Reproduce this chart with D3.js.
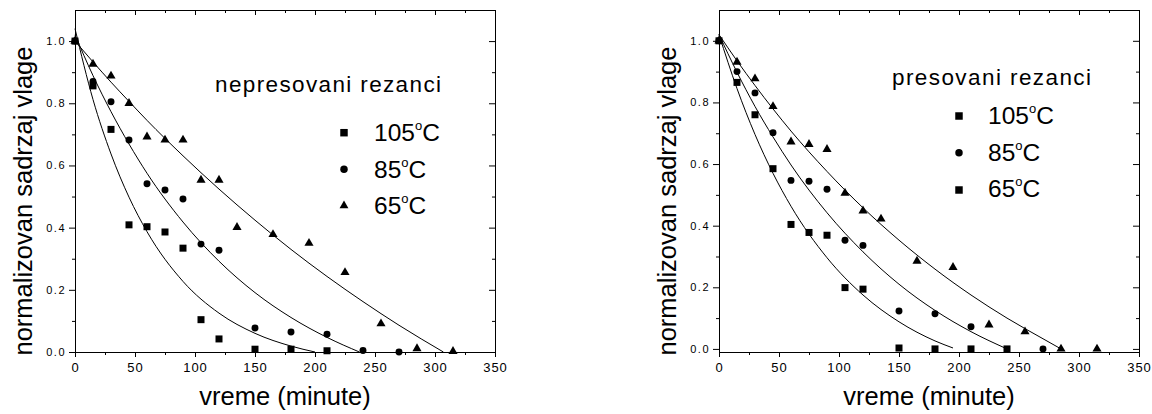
<!DOCTYPE html>
<html>
<head>
<meta charset="utf-8">
<script src="https://cdn.jsdelivr.net/npm/d3@7"></script>
<style>
  body { margin: 0; background: #fff; }
  svg { display: block; font-family: "Liberation Sans", Arial, sans-serif; }
</style>
</head>
<body>
<div id="chart"></div>
<script>
// measured points, nepresovani rezanci (left)
var leftSqT = [0, 15, 30, 45, 60, 75, 90, 105, 120, 150, 180, 210];
var leftSqV = [1.0, 0.856, 0.716, 0.409, 0.403, 0.386, 0.334, 0.104, 0.042, 0.009, 0.009, 0.004];
var leftCiT = [0, 15, 30, 45, 60, 75, 90, 105, 120, 150, 180, 210, 240, 270];
var leftCiV = [1.0, 0.87, 0.805, 0.682, 0.541, 0.521, 0.492, 0.347, 0.327, 0.077, 0.064, 0.057, 0.005, 0.0];
var leftTrT = [0, 15, 30, 45, 60, 75, 90, 105, 120, 135, 165, 195, 225, 255, 285, 315];
var leftTrV = [1.0, 0.926, 0.888, 0.80, 0.692, 0.682, 0.682, 0.553, 0.553, 0.401, 0.378, 0.35, 0.256, 0.091, 0.011, 0.002];

// fitted curves, left
var leftFit105T = [0, 15, 30, 45, 60, 90, 120, 150, 180, 200];
var leftFit105V = [1.04, 0.812, 0.637, 0.498, 0.387, 0.227, 0.125, 0.060, 0.019, 0];
var leftFit85T = [0, 15, 30, 45, 60, 90, 120, 150, 180, 210, 237];
var leftFit85V = [1.02, 0.889, 0.773, 0.669, 0.575, 0.418, 0.292, 0.191, 0.111, 0.047, 0];
var leftFit65T = [0, 15, 30, 45, 60, 90, 120, 150, 180, 210, 240, 270, 307];
var leftFit65V = [1.0, 0.933, 0.868, 0.806, 0.745, 0.631, 0.524, 0.424, 0.330, 0.243, 0.162, 0.086, 0];

// measured points, presovani rezanci (right)
var rightSqT = [0, 15, 30, 45, 60, 75, 90, 105, 120, 150, 180, 210, 240];
var rightSqV = [1.0, 0.865, 0.760, 0.585, 0.404, 0.378, 0.369, 0.199, 0.194, 0.003, 0, 0, 0];
var rightCiT = [0, 15, 30, 45, 60, 75, 90, 105, 120, 150, 180, 210, 270];
var rightCiV = [1.0, 0.90, 0.831, 0.702, 0.547, 0.544, 0.518, 0.353, 0.336, 0.123, 0.114, 0.072, 0.0];
var rightTrT = [0, 15, 30, 45, 60, 75, 90, 105, 120, 135, 165, 195, 225, 255, 285, 315];
var rightTrV = [1.0, 0.931, 0.877, 0.787, 0.672, 0.664, 0.648, 0.506, 0.448, 0.422, 0.285, 0.265, 0.078, 0.056, 0.0, 0.0];

// fitted curves, right
var rightFit105T = [0, 15, 30, 45, 60, 90, 120, 150, 180, 195];
var rightFit105V = [1.02, 0.845, 0.696, 0.570, 0.463, 0.296, 0.175, 0.088, 0.026, 0.003];
var rightFit85T = [0, 15, 30, 45, 60, 90, 120, 150, 180, 210, 240];
var rightFit85V = [1.02, 0.898, 0.787, 0.688, 0.597, 0.442, 0.315, 0.210, 0.125, 0.056, 0];
var rightFit65T = [0, 15, 30, 45, 60, 90, 120, 150, 180, 210, 240, 270, 285];
var rightFit65V = [1.02, 0.935, 0.855, 0.779, 0.707, 0.576, 0.458, 0.353, 0.259, 0.175, 0.100, 0.033, 0];

var xTicks = [0, 50, 100, 150, 200, 250, 300, 350];
var xMinor = [25, 75, 125, 175, 225, 275, 325];
var yTicks = [0.0, 0.2, 0.4, 0.6, 0.8, 1.0];
var yMinor = [0.1, 0.3, 0.5, 0.7, 0.9];

var legendLabels = ["105", "85", "65"];
var xTitle = "vreme (minute)";
var yTitle = "normalizovan sadrzaj vlage";

var W = 1152, H = 414;
var svg = d3.select("#chart").append("svg").attr("width", W).attr("height", H);

function zip(t, v) { return t.map(function(d, i) { return [d, v[i]]; }); }

var panels = [
  {
    x0: 75, x1: 495, yDom: [0, 1.1],
    title: "nepresovani rezanci", titleX: 215, titleY: 92, titleLen: 226,
    legX: 344, legY: [132.7, 169.3, 205.7], legTextX: 374, legBase: [141, 177.7, 214],
    legShapes: [d3.symbolSquare, d3.symbolCircle, d3.symbolTriangle],
    yTitleX: 32,
    points: [
      { shape: d3.symbolSquare, data: zip(leftSqT, leftSqV) },
      { shape: d3.symbolCircle, data: zip(leftCiT, leftCiV) },
      { shape: d3.symbolTriangle, data: zip(leftTrT, leftTrV) }
    ],
    fits: [zip(leftFit105T, leftFit105V), zip(leftFit85T, leftFit85V), zip(leftFit65T, leftFit65V)]
  },
  {
    x0: 719, x1: 1139, yDom: [-0.01, 1.1],
    title: "presovani rezanci", titleX: 892, titleY: 85, titleLen: 199,
    legX: 959, legY: [116, 152.7, 190], legTextX: 988, legBase: [124, 160.7, 196.7],
    // the original legend shows a square for 65°C too
    legShapes: [d3.symbolSquare, d3.symbolCircle, d3.symbolSquare],
    yTitleX: 676,
    points: [
      { shape: d3.symbolSquare, data: zip(rightSqT, rightSqV) },
      { shape: d3.symbolCircle, data: zip(rightCiT, rightCiV) },
      { shape: d3.symbolTriangle, data: zip(rightTrT, rightTrV) }
    ],
    fits: [zip(rightFit105T, rightFit105V), zip(rightFit85T, rightFit85V), zip(rightFit65T, rightFit65V)]
  }
];

var symSize = { };
function symArea(shape, legend) {
  if (shape === d3.symbolSquare) return legend ? 56 : 49;
  if (shape === d3.symbolCircle) return legend ? 44 : 38;
  return legend ? 34 : 36;
}

function styleAxis(g) {
  g.selectAll("path.domain").attr("stroke", "#000").attr("stroke-width", 1);
  g.selectAll(".tick line").attr("stroke", "#000").attr("stroke-width", 1);
}

panels.forEach(function(p) {
  var top = 10, bottom = 352;
  var x = d3.scaleLinear().domain([0, 350]).range([p.x0, p.x1]);
  var y = d3.scaleLinear().domain(p.yDom).range([bottom, top]);

  // bottom axis: outward ticks with labels
  var gb = svg.append("g").attr("transform", "translate(0," + bottom + ")")
    .call(d3.axisBottom(x).tickValues(xTicks).tickSizeInner(5).tickSizeOuter(0).tickPadding(6)
      .tickFormat(d3.format("d")));
  gb.selectAll("text").attr("font-size", 13).attr("font-family", "Liberation Sans, Arial, sans-serif")
    .attr("fill", "#000").attr("letter-spacing", 1);
  styleAxis(gb);
  var gbm = svg.append("g").attr("transform", "translate(0," + bottom + ")")
    .call(d3.axisBottom(x).tickValues(xMinor).tickSizeInner(3).tickSizeOuter(0).tickFormat(""));
  styleAxis(gbm);

  // top axis: inward ticks
  var gt = svg.append("g").attr("transform", "translate(0," + top + ")")
    .call(d3.axisTop(x).tickValues(xTicks).tickSizeInner(-5).tickSizeOuter(0).tickFormat(""));
  styleAxis(gt);
  var gtm = svg.append("g").attr("transform", "translate(0," + top + ")")
    .call(d3.axisTop(x).tickValues(xMinor).tickSizeInner(-3).tickSizeOuter(0).tickFormat(""));
  styleAxis(gtm);

  // left axis: outward ticks with labels
  var gl = svg.append("g").attr("transform", "translate(" + p.x0 + ",0)")
    .call(d3.axisLeft(y).tickValues(yTicks).tickSizeInner(6).tickSizeOuter(0).tickPadding(3)
      .tickFormat(d3.format(".1f")));
  gl.selectAll("text").attr("font-size", 11).attr("font-family", "Liberation Sans, Arial, sans-serif")
    .attr("fill", "#000").attr("letter-spacing", 1.5);
  styleAxis(gl);
  var glm = svg.append("g").attr("transform", "translate(" + p.x0 + ",0)")
    .call(d3.axisLeft(y).tickValues(yMinor).tickSizeInner(3).tickSizeOuter(0).tickFormat(""));
  styleAxis(glm);

  // right axis: inward ticks
  var gr = svg.append("g").attr("transform", "translate(" + p.x1 + ",0)")
    .call(d3.axisRight(y).tickValues(yTicks).tickSizeInner(-6).tickSizeOuter(0).tickFormat(""));
  styleAxis(gr);
  var grm = svg.append("g").attr("transform", "translate(" + p.x1 + ",0)")
    .call(d3.axisRight(y).tickValues(yMinor).tickSizeInner(-3).tickSizeOuter(0).tickFormat(""));
  styleAxis(grm);

  // fitted curves
  var line = d3.line().x(function(d) { return x(d[0]); }).y(function(d) { return y(d[1]); })
    .curve(d3.curveMonotoneX);
  svg.append("g").selectAll("path").data(p.fits).enter().append("path")
    .attr("d", line).attr("fill", "none").attr("stroke", "#000").attr("stroke-width", 1);

  // measured points
  p.points.forEach(function(s) {
    svg.append("g").selectAll("path").data(s.data).enter().append("path")
      .attr("d", d3.symbol().type(s.shape).size(symArea(s.shape, false)))
      .attr("transform", function(d) { return "translate(" + x(d[0]) + "," + y(d[1]) + ")"; })
      .attr("fill", "#000");
  });

  // panel title
  svg.append("text").attr("x", p.titleX).attr("y", p.titleY)
    .attr("font-size", 22.5).attr("textLength", p.titleLen).attr("lengthAdjust", "spacing")
    .attr("fill", "#000").text(p.title);

  // legend
  legendLabels.forEach(function(lab, i) {
    svg.append("path")
      .attr("d", d3.symbol().type(p.legShapes[i]).size(symArea(p.legShapes[i], true)))
      .attr("transform", "translate(" + p.legX + "," + p.legY[i] + ")")
      .attr("fill", "#000");
    var t = svg.append("text").attr("x", p.legTextX).attr("y", p.legBase[i])
      .attr("font-size", 24.5).attr("fill", "#000");
    t.append("tspan").text(lab);
    t.append("tspan").attr("font-size", 13).attr("dy", -11).text("o");
    t.append("tspan").attr("dy", 11).text("C");
  });

  // axis titles
  svg.append("text").attr("x", (p.x0 + p.x1) / 2).attr("y", 405)
    .attr("text-anchor", "middle").attr("font-size", 25.5).attr("fill", "#000").text(xTitle);
  svg.append("text")
    .attr("transform", "translate(" + p.yTitleX + ",201) rotate(-90)")
    .attr("text-anchor", "middle").attr("font-size", 25.5).attr("fill", "#000").text(yTitle);
});
</script>
</body>
</html>
